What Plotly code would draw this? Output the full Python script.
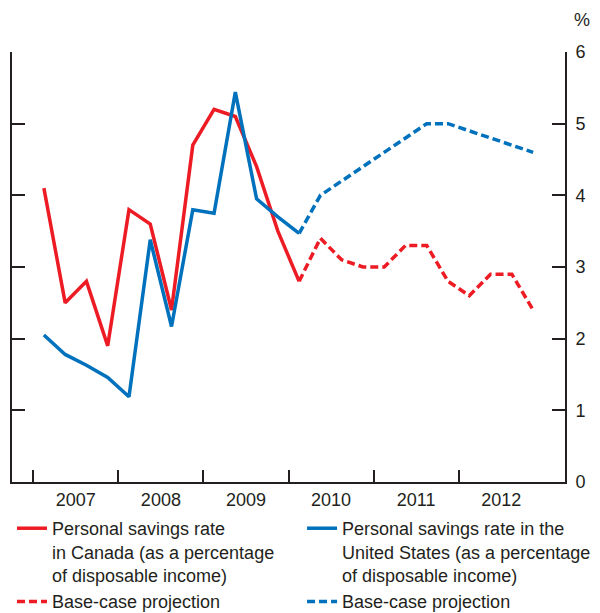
import plotly.graph_objects as go

# Trimestres 2007T1 a 2012T4
trimestres = [f"{a}Q{q}" for a in range(2007, 2013) for q in range(1, 5)]

# Taux d'epargne (%), historique jusqu'a 2010Q1
canada_hist = [4.1, 2.5, 2.8, 1.9, 3.8, 3.6, 2.4, 4.7, 5.2, 5.1, 4.4, 3.5, 2.8]
usa_hist = [2.05, 1.78, 1.63, 1.46, 1.19, 3.38, 2.17, 3.8, 3.75, 5.44, 3.95, 3.7, 3.47]

# Projection de base, 2010Q1 a 2012Q4 (premier point = dernier historique)
canada_proj = [2.8, 3.4, 3.1, 3.0, 3.0, 3.3, 3.3, 2.8, 2.6, 2.9, 2.9, 2.4]
usa_proj = [3.47, 4.0, 4.2, 4.4, 4.6, 4.8, 5.0, 5.0, 4.9, 4.8, 4.7, 4.6]

annees = [2007, 2008, 2009, 2010, 2011, 2012]
yticks = [0, 1, 2, 3, 4, 5, 6]

ROUGE = '#ED1C24'
BLEU = '#0071BC'
AXE = '#231F20'
TEXTE = '#231F20'
TAILLE = 18


def pos(label):
    """Position du milieu du trimestre en annees decimales"""
    a, q = label.split("Q")
    return int(a) + (int(q) - 0.5) / 4


x_all = [pos(t) for t in trimestres]
n_hist = len(canada_hist)
x_hist = x_all[:n_hist]
x_proj = x_all[n_hist - 1:]

fig = go.Figure()

# Colonne de gauche de la legende : Canada
fig.add_trace(go.Scatter(
    x=x_hist, y=canada_hist, mode='lines',
    line=dict(color=ROUGE, width=3.5),
    name='Personal savings rate<br>in Canada (as a percentage<br>of disposable income)',
    legend='legend'
))
fig.add_trace(go.Scatter(
    x=x_proj, y=canada_proj, mode='lines',
    line=dict(color=ROUGE, width=3.5, dash='8px,4px'),
    name='Base-case projection',
    legend='legend'
))

# Colonne de droite : Etats-Unis
fig.add_trace(go.Scatter(
    x=x_hist, y=usa_hist, mode='lines',
    line=dict(color=BLEU, width=3.5),
    name='Personal savings rate in the<br>United States (as a percentage<br>of disposable income)',
    legend='legend2'
))
fig.add_trace(go.Scatter(
    x=x_proj, y=usa_proj, mode='lines',
    line=dict(color=BLEU, width=3.5, dash='8px,4px'),
    name='Base-case projection',
    legend='legend2'
))

# Signe % au-dessus de l'axe de droite
fig.add_annotation(
    text='%', x=1, xref='paper', xanchor='center', xshift=17,
    y=1, yref='paper', yanchor='middle', yshift=32,
    showarrow=False, font=dict(size=TAILLE, color=TEXTE)
)

legende_base = dict(
    orientation='v',
    xref='paper', yref='container',
    y=0.168, yanchor='top',
    valign='top',
    font=dict(size=TAILLE, color=TEXTE),
    bgcolor='rgba(0,0,0,0)',
    borderwidth=0,
    itemwidth=30,
    tracegroupgap=0,
)

fig.update_layout(
    width=600,
    height=613,
    margin=dict(l=12, r=35, t=52, b=131),
    paper_bgcolor='white',
    plot_bgcolor='white',
    font=dict(family='Liberation Sans, Arial, sans-serif', size=TAILLE, color=TEXTE),
    xaxis=dict(
        range=[2006.75, 2013.25],
        tickvals=[a + 0.5 for a in annees],
        ticktext=[str(a) for a in annees],
        ticks='',
        showgrid=False,
        zeroline=False,
        showline=True,
        linecolor=AXE,
        linewidth=2,
        automargin=False,
        tickfont=dict(size=TAILLE, color=TEXTE),
        minor=dict(tickvals=annees, ticks='inside', ticklen=12,
                   tickwidth=2, tickcolor=AXE, showgrid=False),
    ),
    yaxis=dict(
        range=[0, 6],
        tickvals=yticks,
        side='right',
        ticks='inside',
        ticklen=13,
        tickwidth=2,
        tickcolor=AXE,
        showline=True,
        linecolor=AXE,
        linewidth=2,
        mirror='ticks',
        showgrid=False,
        zeroline=False,
        automargin=False,
        ticklabelstandoff=5,
        tickfont=dict(size=TAILLE, color=TEXTE),
    ),
    showlegend=True,
    legend=dict(legende_base, x=0.0, xanchor='left'),
    legend2=dict(legende_base, x=0.5245, xanchor='left'),
)

# Pas de marge de page : la figure commence au coin de la fenetre
fig.write_html("out.html",
               config={'displayModeBar': False},
               post_script="document.body.style.margin='0';document.body.style.overflow='hidden';")
